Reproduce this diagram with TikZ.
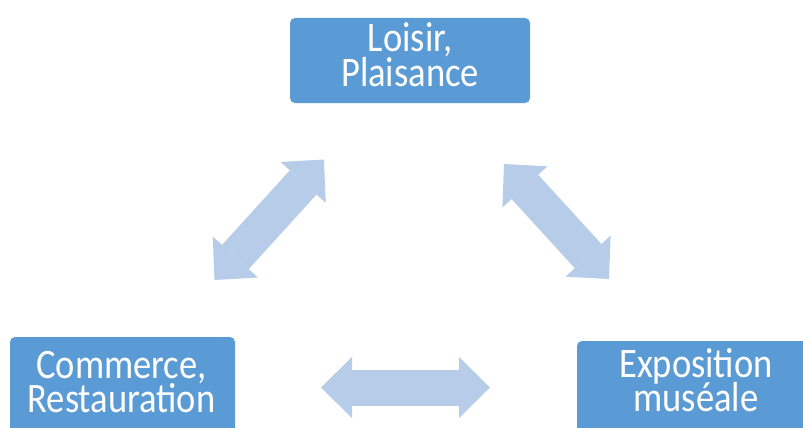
\documentclass[tikz,border=0pt]{standalone}
\usepackage{fontspec}
\usepackage{xcolor}
\newfontfamily\boxfont{Carlito}[FakeStretch=0.87]
\usetikzlibrary{arrows.meta, positioning, calc}

\definecolor{boxblue}{HTML}{5B9BD5}
\definecolor{arrowblue}{HTML}{B7CCE8}

\begin{document}
\begin{tikzpicture}[
    x=1pt, y=-1pt,
    box/.style={rectangle, rounded corners=5pt, fill=boxblue, inner sep=0pt},
    boxtext/.style={text=white, align=center, inner sep=0pt, anchor=base, font={\boxfont\fontsize{42}{34.7}\selectfont\lineskiplimit=-30pt}},
    bigarrow/.style={line width=36pt, draw=arrowblue, {Triangle[length=31pt, width=61pt, line width=0pt]}-{Triangle[length=31pt, width=61pt, line width=0pt]}}
]
\useasboundingbox (0,0) rectangle (803,428);
\clip (0,0) rectangle (803,428);

% Top box
\node[box, minimum width=240pt, minimum height=85pt] (loisir) at (410,60.5) {};
\node[boxtext, text width=240pt] (loisirtxt) at (410,51.7) {Loisir,\\Plaisance};

% Bottom left box
\node[box, minimum width=225pt, minimum height=110pt] (commerce) at (122.5,392) {};
\node[boxtext, text width=225pt] (commercetxt) at (121.5,378) {Commerce,\\Restauration};

% Bottom right box
\node[box, minimum width=238pt, minimum height=110pt] (expo) at (696,396) {};
\node[boxtext, text width=238pt] (expotxt) at (696,377) {Exposition\\mus\'eale};

% Arrow ends
\coordinate (leftlow) at (214.5,280);
\coordinate (lefthigh) at (324,159.5);
\coordinate (rightlow) at (609,279);
\coordinate (righthigh) at (504,164);
\coordinate (midleft) at (321,387.5);
\coordinate (midright) at (490,387.5);

% Arrows
\draw[bigarrow] (leftlow) -- (lefthigh);
\draw[bigarrow] (righthigh) -- (rightlow);
\draw[bigarrow] (midleft) -- (midright);

\end{tikzpicture}
\end{document}
